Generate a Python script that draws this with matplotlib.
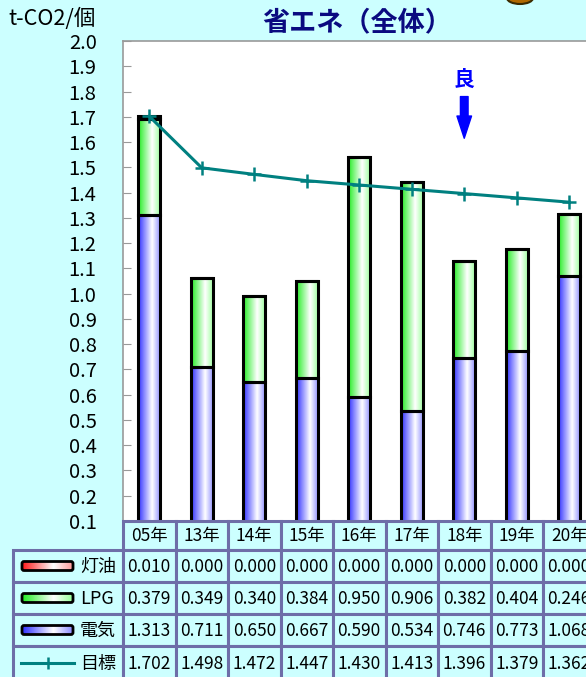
import numpy as np
import matplotlib
matplotlib.use('Agg')
import matplotlib.pyplot as plt
from matplotlib.colors import LinearSegmentedColormap
from matplotlib.patches import Rectangle, FancyBboxPatch, Ellipse

plt.rcParams['font.family'] = ['Noto Sans CJK JP', 'DejaVu Sans']

years = ['05年', '13年', '14年', '15年', '16年', '17年', '18年', '19年', '20年']
kerosene = [0.010, 0.000, 0.000, 0.000, 0.000, 0.000, 0.000, 0.000, 0.000]
lpg = [0.379, 0.349, 0.340, 0.384, 0.950, 0.906, 0.382, 0.404, 0.246]
electric = [1.313, 0.711, 0.650, 0.667, 0.590, 0.534, 0.746, 0.773, 1.068]
target = [1.702, 1.498, 1.472, 1.447, 1.430, 1.413, 1.396, 1.379, 1.362]
row_names = ['灯油', 'LPG', '電気', '目標']

BG = '#CCFFFF'
GRID = '#6E6EA8'
TEAL = '#008080'


def grad_cmap(dark, light):
    return LinearSegmentedColormap.from_list('g', [(0, dark), (0.62, 'white'), (1, light)])


cmaps = {
    '灯油': grad_cmap('#FF1A1A', '#FF9A9A'),
    'LPG': grad_cmap('#22EE22', '#99FF99'),
    '電気': grad_cmap('#3030FF', '#8C8CFF'),
}
grad = np.linspace(0, 1, 64).reshape(1, -1)

W, H = 586, 677
fig = plt.figure(figsize=(W / 100, H / 100), dpi=100, facecolor=BG)

# main plot area, runs a bit past the right edge like the original
left, right, top, bottom = 123, 595.5, 41, 521
ax = fig.add_axes([left / W, (H - bottom) / H, (right - left) / W, (bottom - top) / H])
ax.set_facecolor('white')

x = np.arange(len(years))
e = np.array(electric)
l = np.array(lpg)
k = np.array(kerosene)
layers = [('電気', e, 0), ('LPG', l, e), ('灯油', k, e + l)]
for name, vals, base in layers:
    bars = ax.bar(x, vals, bottom=base, width=0.42, facecolor='none',
                  edgecolor='black', linewidth=2.2, zorder=3)
    for p in bars.patches:
        if p.get_height() <= 0:
            continue
        x0, y0 = p.get_x(), p.get_y()
        im = ax.imshow(grad, extent=[x0, x0 + p.get_width(), y0, y0 + p.get_height()],
                       aspect='auto', cmap=cmaps[name], zorder=2, interpolation='bilinear')
        im.set_clip_path(p)

ax.plot(x, target, color=TEAL, lw=2.2, marker='+', ms=10.5, mew=1.8, zorder=4)

ax.set_xlim(-0.5, len(years) - 0.5)
ax.set_ylim(0.1, 2.0)
ax.set_yticks(np.arange(0.1, 2.01, 0.1))
ax.set_yticklabels([f'{v:.1f}' for v in np.arange(0.1, 2.01, 0.1)], fontsize=14.5)
ax.tick_params(axis='y', direction='in', length=6, color='#999999', pad=19)
ax.set_xticks([])
for s in ['left', 'top']:
    ax.spines[s].set_color('#999999')
    ax.spines[s].set_linewidth(1.2)
for s in ['right', 'bottom']:
    ax.spines[s].set_visible(False)

# "good" direction marker
ax.text(6, 1.85, '良', color='#0000FF', fontsize=15, fontweight='bold',
        ha='center', va='center', zorder=5)
ax.annotate('', xy=(6, 1.615), xytext=(6, 1.78),
            arrowprops=dict(arrowstyle='simple,head_width=1.05,head_length=1.6,tail_width=0.55',
                            color='#0000FF', mutation_scale=10, shrinkA=0, shrinkB=0))

# overlay in pixel coordinates for titles and the data table
ov = fig.add_axes([0, 0, 1, 1], zorder=5)
ov.set_xlim(0, W)
ov.set_ylim(H, 0)
ov.axis('off')

ov.text(357, 22, '省エネ（全体）', color='#0A0A80', fontsize=19.5, fontweight='bold',
        ha='center', va='center')
ov.text(8, 19, 't-CO2/個', fontsize=15.5, ha='left', va='center')
ov.add_patch(Ellipse((520, -2), 26, 12, facecolor='#B06800', edgecolor='#3A2A00', lw=1.5))

col_w = (right - left) / len(years)
row_edges = [521, 550, 582, 614, 646, 680]
lab_left = 13


def cell(x0, y0, w, h):
    ov.add_patch(Rectangle((x0, y0), w, h, facecolor=BG, edgecolor=GRID, lw=2.2))


for i, yr in enumerate(years):
    cx = left + col_w * i
    cell(cx, row_edges[0], col_w, row_edges[1] - row_edges[0])
    ov.text(cx + col_w / 2, (row_edges[0] + row_edges[1]) / 2 + 1, yr,
            fontsize=12.5, ha='center', va='center')

series = [kerosene, lpg, electric, target]
for r, (name, vals) in enumerate(zip(row_names, series)):
    y0, y1 = row_edges[r + 1], row_edges[r + 2]
    ym = (y0 + y1) / 2
    cell(lab_left, y0, left - lab_left, y1 - y0)
    for i, v in enumerate(vals):
        cx = left + col_w * i
        cell(cx, y0, col_w, y1 - y0)
        ov.text(cx + col_w / 2, ym + 1, f'{v:.3f}', fontsize=12.5, ha='center', va='center')
    # legend key
    if name in cmaps:
        key = FancyBboxPatch((22, ym - 4.5), 51, 9, boxstyle='round,pad=0,rounding_size=2',
                             facecolor='none', edgecolor='black', lw=2, zorder=3)
        ov.add_patch(key)
        im = ov.imshow(grad, extent=[22, 73, ym + 4.5, ym - 4.5], aspect='auto',
                       cmap=cmaps[name], zorder=2, interpolation='bilinear')
        im.set_clip_path(key)
    else:
        ov.plot([21, 74], [ym, ym], color=TEAL, lw=2.2)
        ov.plot([47.5], [ym], color=TEAL, marker='+', ms=9, mew=1.8)
    ov.text(80, ym + 1, name, fontsize=13, ha='left', va='center')

ov.set_xlim(0, W)
ov.set_ylim(H, 0)

fig.savefig('out.png', dpi=100, facecolor=BG)
